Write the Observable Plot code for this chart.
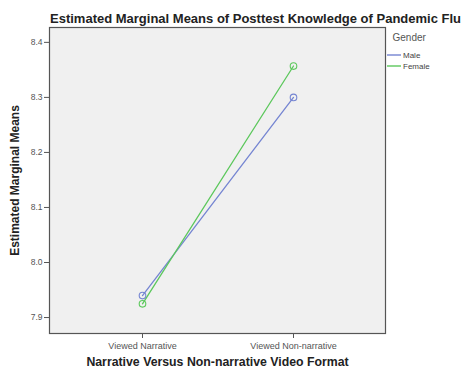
<!DOCTYPE html>
<html>
<head>
<meta charset="utf-8">
<script src="https://cdn.jsdelivr.net/npm/d3@7"></script>
<script src="https://cdn.jsdelivr.net/npm/@observablehq/plot@0.6"></script>
<style>
  body { margin: 0; background: #fff; }
  svg { font-family: Arial, "Liberation Sans", sans-serif; }
</style>
</head>
<body>
<div id="chart"></div>
<script>
const formats = ["Viewed Narrative", "Viewed Non-narrative"];
const genders = ["Male", "Female"];
const maleMeans = [7.940, 8.300];
const femaleMeans = [7.925, 8.357];
const yTicks = [7.9, 8.0, 8.1, 8.2, 8.3, 8.4];
const colors = ["#7585d2", "#5cc85c"];

const data = [];
formats.forEach((f, i) => {
  data.push({format: f, gender: "Male", mean: maleMeans[i]});
  data.push({format: f, gender: "Female", mean: femaleMeans[i]});
});

const chart = Plot.plot({
  width: 464,
  height: 378,
  marginLeft: 49,
  marginRight: 79,
  marginTop: 27,
  marginBottom: 45,
  style: {fontFamily: "Arial, 'Liberation Sans', sans-serif", background: "#fff"},
  x: {type: "point", domain: formats, padding: 0.61},
  y: {domain: [7.871, 8.427]},
  color: {domain: genders, range: colors},
  marks: [
    Plot.frame({fill: "#f0f0f0", stroke: "#555", strokeWidth: 1.2}),
    Plot.axisY({ticks: yTicks, tickFormat: d3.format(".1f"), tickSize: 5, tickPadding: 2,
      fontSize: 8.5, color: "#555", label: null}),
    Plot.axisX({tickSize: 5, tickPadding: 4, fontSize: 9, color: "#555", label: null}),
    Plot.line(data, {x: "format", y: "mean", z: "gender", stroke: "gender", strokeWidth: 1.3}),
    Plot.dot(data, {x: "format", y: "mean", stroke: "gender", r: 3.3, strokeWidth: 1.1}),
    Plot.text(["Estimated Marginal Means of Posttest Knowledge of Pandemic Flu"], {
      frameAnchor: "top", dx: 38, dy: -14, fontSize: 13, fontWeight: "bold", fill: "#222"}),
    Plot.text(["Estimated Marginal Means"], {
      frameAnchor: "left", dx: -34, rotate: -90, textAnchor: "middle", fontSize: 12, fontWeight: "bold", fill: "#222"}),
    Plot.text(["Narrative Versus Non-narrative Video Format"], {
      frameAnchor: "bottom", dy: 32, fontSize: 12.3, fontWeight: "bold", fill: "#222"}),
    Plot.text(["Gender"], {frameAnchor: "top-right", dx: 7, dy: 6, fontSize: 10, fill: "#555", textAnchor: "start"})
  ]
});

// legend entries
const svg = d3.select(chart);
const legendX = 387, legendY0 = 55, legendStep = 11;
const lg = svg.append("g").attr("text-anchor", "start");
genders.forEach((g, i) => {
  const y = legendY0 + i * legendStep;
  lg.append("line").attr("x1", legendX).attr("x2", legendX + 14).attr("y1", y).attr("y2", y)
    .attr("stroke", colors[i]).attr("stroke-width", 1.4);
  lg.append("text").attr("x", legendX + 16).attr("y", y).attr("dy", "0.35em")
    .attr("text-anchor", "start").attr("font-size", 8).attr("fill", "#444").text(g);
});
document.getElementById("chart").appendChild(chart);
</script>
</body>
</html>
